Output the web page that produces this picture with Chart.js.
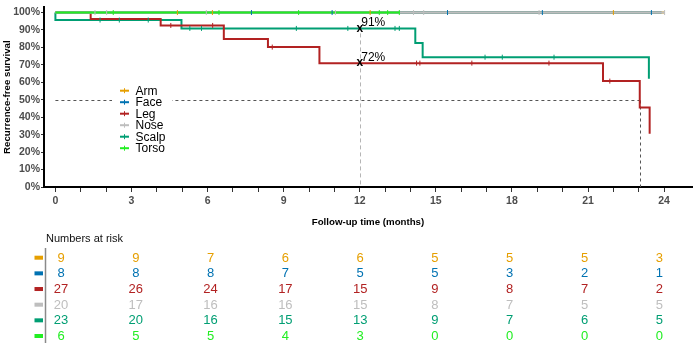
<!DOCTYPE html>
<html><head><meta charset="utf-8">
<script src="https://cdn.jsdelivr.net/npm/chart.js@4.4.1/dist/chart.umd.min.js"></script>
<style>
html,body{margin:0;padding:0;background:#fff;}
#wrap{position:relative;width:697px;height:356px;overflow:hidden;}
canvas{display:block;}
</style></head><body>
<div id="wrap">
<canvas id="km" width="697" height="232"></canvas>
<canvas id="risk" width="697" height="124"></canvas>
</div>
<script>
const FONT = "'Liberation Sans', Arial, sans-serif";
const groups = ['Arm','Face','Leg','Nose','Scalp','Torso'];
const groupColors = ['#E69F00','#0072B2','#B22222','#BEBEBE','#009E73','#22EE22'];
const drawOrder = [3,2,4,1,5,0];

// Kaplan-Meier step points (time in months, survival)
const armTimes = [0, 24.0];            const armSurv = [1, 1];
const faceTimes = [0, 23.9];           const faceSurv = [1, 1];
const legTimes = [0, 1.39, 4.15, 6.64, 8.38, 10.41, 21.59, 23.04, 23.43];
const legSurv  = [1, 0.963, 0.926, 0.849, 0.802, 0.71, 0.607, 0.455, 0.305];
const noseTimes = [0, 24.02];          const noseSurv = [1, 1];
const scalpTimes = [0, 0, 4.97, 14.19, 14.48, 23.4];
const scalpSurv  = [1, 0.957, 0.909, 0.826, 0.744, 0.62];
const torsoTimes = [0, 13.56];         const torsoSurv = [1, 1];

// censor marks
const armCensT = [4.81, 6.19, 12.41, 22.0];                 const armCensS = [1, 1, 1, 1];
const faceCensT = [7.73, 10.91, 15.46, 19.2, 23.5];         const faceCensS = [1, 1, 1, 1, 1];
const legCensT = [4.55, 6.2, 8.55, 14.24, 14.37, 16.42, 19.46, 21.86];
const legCensS = [0.926, 0.926, 0.802, 0.71, 0.71, 0.71, 0.71, 0.607];
const noseCensT = [1.56, 2.02, 5.95, 11.04, 14.12, 14.52, 19.07, 24.02];
const noseCensS = [1, 1, 1, 1, 1, 1, 1, 1];
const scalpCensT = [1.76, 2.52, 3.66, 5.3, 5.76, 9.5, 11.53, 13.39, 13.56, 16.94, 17.62, 19.66];
const scalpCensS = [0.957, 0.957, 0.957, 0.909, 0.909, 0.909, 0.909, 0.909, 0.909, 0.744, 0.744, 0.744];
const torsoCensT = [2.28, 6.45, 9.59, 12.77, 13.1, 13.56];  const torsoCensS = [1, 1, 1, 1, 1, 1];

// reference lines / landmark
const medianSurv = 0.5;
const medianTime = 23.04;
const landmarkTime = 12;
const landmarkVals = [0.909, 0.71];
const landmarkLabels = ['91%', '72%'];

// axis ticks
const xTickValues = [0,1,2,3,4,5,6,7,8,9,10,11,12,13,14,15,16,17,18,19,20,21,22,23,24];
const yTickValues = [0,0.1,0.2,0.3,0.4,0.5,0.6,0.7,0.8,0.9,1.0];

// numbers at risk
const riskTimes = [0,3,6,9,12,15,18,21,24];
const riskArm   = [9,9,7,6,6,5,5,5,3];
const riskFace  = [8,8,8,7,5,5,3,2,1];
const riskLeg   = [27,26,24,17,15,9,8,7,2];
const riskNose  = [20,17,16,16,15,8,7,5,5];
const riskScalp = [23,20,16,15,13,9,7,6,5];
const riskTorso = [6,5,5,4,3,0,0,0,0];

const stepT = [armTimes, faceTimes, legTimes, noseTimes, scalpTimes, torsoTimes];
const stepS = [armSurv, faceSurv, legSurv, noseSurv, scalpSurv, torsoSurv];
const censT = [armCensT, faceCensT, legCensT, noseCensT, scalpCensT, torsoCensT];
const censS = [armCensS, faceCensS, legCensS, noseCensS, scalpCensS, torsoCensS];
const riskRows = [riskArm, riskFace, riskLeg, riskNose, riskScalp, riskTorso];

const xy = (t, s) => t.map((v, i) => ({x: v, y: s[i]}));

const datasets = [];
groups.forEach((g, i) => {
  datasets.push({
    label: g, data: xy(stepT[i], stepS[i]), borderColor: groupColors[i], backgroundColor: groupColors[i],
    borderWidth: 2, stepped: 'before', pointRadius: 0, fill: false, order: drawOrder[i] + 10, isCensor: false
  });
});
groups.forEach((g, i) => {
  datasets.push({
    label: g + ' censored', data: xy(censT[i], censS[i]), borderColor: groupColors[i], backgroundColor: groupColors[i],
    showLine: false, pointStyle: 'line', rotation: 90, pointRadius: 2.5, pointBorderWidth: 1, borderWidth: 1,
    order: drawOrder[i], isCensor: true
  });
});

const kmExtras = {
  id: 'kmExtras',
  beforeDatasetsDraw(chart) {
    const {ctx, scales: {x, y}} = chart;
    ctx.save();
    ctx.lineWidth = 1;
    ctx.strokeStyle = '#555';
    ctx.setLineDash([3, 3]);
    const ym = Math.round(y.getPixelForValue(medianSurv)) + 0.5;
    const xm = Math.round(x.getPixelForValue(medianTime)) + 0.5;
    ctx.beginPath();
    ctx.moveTo(x.getPixelForValue(0), ym);
    ctx.lineTo(xm, ym);
    ctx.moveTo(xm, ym);
    ctx.lineTo(xm, y.getPixelForValue(0));
    ctx.stroke();
    ctx.strokeStyle = '#B5B5B5';
    ctx.setLineDash([4, 3]);
    const xl = Math.round(x.getPixelForValue(landmarkTime)) + 0.5;
    ctx.beginPath();
    ctx.moveTo(xl, y.getPixelForValue(landmarkVals[0]) + 5);
    ctx.lineTo(xl, y.getPixelForValue(0));
    ctx.stroke();
    ctx.restore();
  },
  afterDatasetsDraw(chart) {
    const {ctx, scales: {x, y}} = chart;
    ctx.save();
    const xl = x.getPixelForValue(landmarkTime);
    landmarkVals.forEach((v, i) => {
      const yp = y.getPixelForValue(v);
      ctx.fillStyle = '#000';
      ctx.textAlign = 'center';
      ctx.textBaseline = 'middle';
      ctx.font = 'bold 12px ' + FONT;
      ctx.fillText('x', xl, yp);
      ctx.textAlign = 'left';
      ctx.font = '12px ' + FONT;
      ctx.fillText(landmarkLabels[i], xl + 1.5, yp - 5.5);
    });
    // legend
    ctx.fillStyle = '#fff';
    ctx.fillRect(112, 84, 60, 71);
    const items = chart.data.datasets.filter(d => !d.isCensor);
    items.forEach((d, i) => {
      const cy = 90.7 + i * 11.5;
      ctx.strokeStyle = d.borderColor;
      ctx.setLineDash([]);
      ctx.lineWidth = 2;
      ctx.beginPath(); ctx.moveTo(120, cy); ctx.lineTo(129, cy); ctx.stroke();
      ctx.lineWidth = 1;
      ctx.beginPath(); ctx.moveTo(124.5, cy - 2.5); ctx.lineTo(124.5, cy + 2.5); ctx.stroke();
      ctx.fillStyle = '#000';
      ctx.font = '12px ' + FONT;
      ctx.textAlign = 'left';
      ctx.textBaseline = 'middle';
      ctx.fillText(d.label, 135.5, cy + 0.5);
    });
    ctx.restore();
  }
};

new Chart(document.getElementById('km'), {
  type: 'line',
  data: {datasets},
  options: {
    responsive: false, animation: false, devicePixelRatio: 1,
    layout: {padding: {top: 6, right: 4, left: 0, bottom: 0}},
    plugins: {legend: {display: false}, tooltip: {enabled: false}},
    scales: {
      x: {
        type: 'linear', min: -0.45, max: 25.1,
        afterBuildTicks: s => { s.ticks = xTickValues.map(v => ({value: v})); },
        afterFit: s => { s.height = 45; },
        ticks: {autoSkip: false, maxRotation: 0, padding: 3, color: '#4D4D4D',
          font: {family: FONT, size: 10.5, weight: 'bold'},
          callback: v => (v % 3 === 0 ? String(v) : '')},
        grid: {drawOnChartArea: false, drawTicks: true, tickLength: 5, color: '#333'},
        border: {display: true, color: '#000', width: 2},
        title: {display: true, text: 'Follow-up time (months)', color: '#000',
          font: {family: FONT, size: 9.7, weight: 'bold'}, padding: {top: 0, bottom: 4}}
      },
      y: {
        type: 'linear', min: 0, max: 1.03,
        afterBuildTicks: s => { s.ticks = yTickValues.map(v => ({value: v})); },
        afterFit: s => { s.width = 44; },
        ticks: {padding: 1, color: '#4D4D4D', font: {family: FONT, size: 10.5, weight: 'bold'},
          callback: v => Math.round(v * 100) + '%'},
        grid: {drawOnChartArea: false, drawTicks: true, tickLength: 3, color: '#333'},
        border: {display: true, color: '#000', width: 2},
        title: {display: true, text: 'Recurrence-free survival', color: '#000',
          font: {family: FONT, size: 9.7, weight: 'bold'}, padding: {top: 1.5, bottom: 0}}
      }
    }
  },
  plugins: [kmExtras]
});

// Risk table
const riskDatasets = groups.map((g, i) => ({
  label: g, data: riskTimes.map(t => ({x: t, y: g})), counts: riskRows[i],
  color: groupColors[i], pointRadius: 0, showLine: false
}));

const riskText = {
  id: 'riskText',
  afterDatasetsDraw(chart) {
    const {ctx, scales: {y}} = chart;
    ctx.save();
    ctx.fillStyle = '#111';
    ctx.font = '11px ' + FONT;
    ctx.textAlign = 'left';
    ctx.textBaseline = 'middle';
    ctx.fillText('Numbers at risk', 46, 7);
    ctx.strokeStyle = '#8A8A8A';
    ctx.lineWidth = 1.5;
    ctx.beginPath(); ctx.moveTo(45.5, 16); ctx.lineTo(45.5, 111); ctx.stroke();
    chart.data.datasets.forEach((d, i) => {
      const meta = chart.getDatasetMeta(i);
      const ry = y.getPixelForValue(i);
      ctx.fillStyle = d.color;
      ctx.fillRect(34.5, ry - 2, 8.5, 4);
      ctx.font = '13px ' + FONT;
      ctx.textAlign = 'center';
      meta.data.forEach((pt, j) => {
        ctx.fillText(String(d.counts[j]), pt.x, pt.y + 0.5);
      });
    });
    ctx.restore();
  }
};

new Chart(document.getElementById('risk'), {
  type: 'scatter',
  data: {labels: groups, datasets: riskDatasets},
  options: {
    responsive: false, animation: false, devicePixelRatio: 1,
    layout: {padding: {left: 61, right: 37.7, top: 25.7, bottom: 20}},
    plugins: {legend: {display: false}, tooltip: {enabled: false}},
    scales: {
      x: {type: 'linear', min: 0, max: 24, display: false},
      y: {type: 'category', labels: groups, offset: false, display: false}
    }
  },
  plugins: [riskText]
});
</script>
</body></html>
